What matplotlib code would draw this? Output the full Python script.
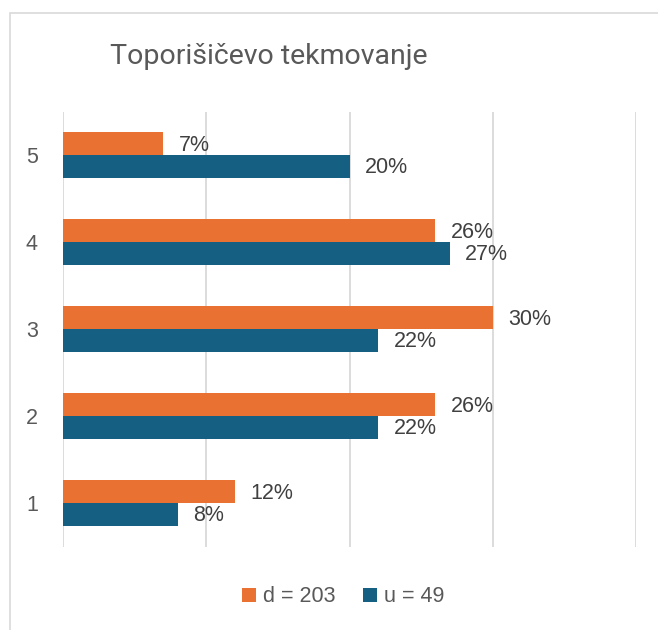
import matplotlib
matplotlib.use("Agg")
import matplotlib.pyplot as plt
import numpy as np
from matplotlib.patches import Rectangle

categories = ["1", "2", "3", "4", "5"]
d_values = [12, 26, 30, 26, 7]
u_values = [8, 22, 22, 27, 20]
d_label = "d = 203"
u_label = "u = 49"
title = "Toporišičevo tekmovanje"

plt.rcParams["font.family"] = ["Liberation Sans", "DejaVu Sans"]

W, H = 658, 630
fig = plt.figure(figsize=(W / 100, H / 100), dpi=100)
fig.patch.set_facecolor("white")

# border
fig.patches.append(Rectangle((10 / W, 0 - 0.01), 1.0, 1 - 13 / H + 0.01,
                             transform=fig.transFigure, fill=False,
                             edgecolor="#d9d9d9", linewidth=1.2))

ax = fig.add_axes([63 / W, 1 - 546.5 / H, (636 - 63) / W, (546.5 - 111.5) / H])
y = np.arange(1, len(categories) + 1)
h = 0.26
orange = "#E97132"
blue = "#156082"
ax.barh(y + h / 2, d_values, height=h, color=orange, label=d_label, zorder=3)
ax.barh(y - h / 2, u_values, height=h, color=blue, label=u_label, zorder=3)

ax.set_xlim(0, 40)
ax.set_ylim(0.5, 5.5)
ax.set_xticks([0, 10, 20, 30, 40])
ax.set_xticklabels([])
ax.tick_params(axis="x", length=0)
ax.grid(axis="x", color="#d9d9d9", linewidth=1.3, zorder=0)
ax.set_yticks(y)
ax.set_yticklabels(categories, fontsize=15.5, color="#595959")
ax.tick_params(axis="y", length=0, pad=18)
for s in ax.spines.values():
    s.set_visible(False)

lab_color = "#404040"
for yi, v in zip(y, d_values):
    ax.annotate(f"{v}%", (v, yi + h / 2), xytext=(11, -1), textcoords="offset points",
                va="center", ha="left", fontsize=15.5, color=lab_color)
for yi, v in zip(y, u_values):
    ax.annotate(f"{v}%", (v, yi - h / 2), xytext=(11, -1), textcoords="offset points",
                va="center", ha="left", fontsize=15.5, color=lab_color)

fig.text(269 / W, 1 - 57 / H, title, ha="center", va="center", fontsize=20.5,
         color="#595959", family=["Roboto", "DejaVu Sans"])

leg = fig.legend(loc="center", bbox_to_anchor=(343 / W, 1 - 597 / H), ncol=2,
                 frameon=False, fontsize=15.5, handlelength=0.65, handleheight=0.65,
                 handletextpad=0.3, columnspacing=1.3, labelcolor="#595959")

fig.savefig("out.png", dpi=100, facecolor="white")
